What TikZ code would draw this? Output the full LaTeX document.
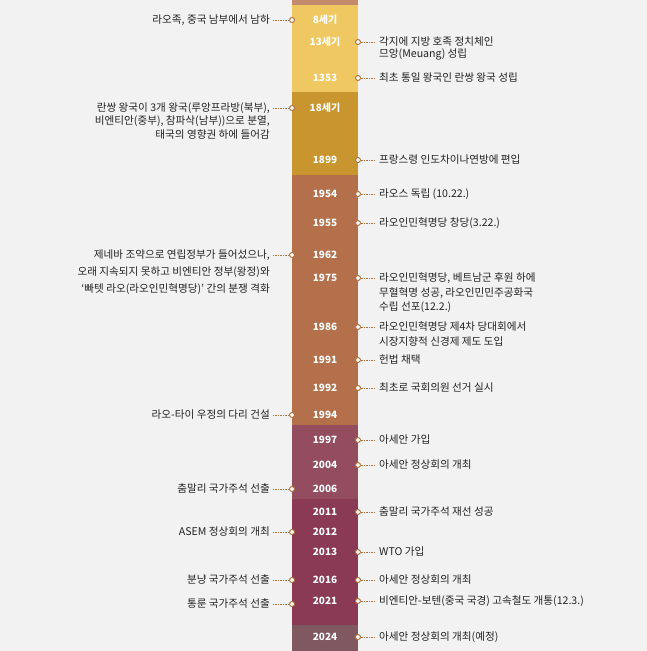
\documentclass[tikz,border=0pt]{standalone}
\usepackage{fontspec}
\setmainfont{Noto Sans CJK KR}
\usepackage{tikz}
\usetikzlibrary{positioning}

\definecolor{bggray}{HTML}{F2F2F2}
\definecolor{txtgray}{HTML}{222222}
\definecolor{dotbrown}{HTML}{B07440}
\definecolor{segtop}{HTML}{C48A6C}
\definecolor{segyellow}{HTML}{EFC862}
\definecolor{seggold}{HTML}{C8952F}
\definecolor{segbrown}{HTML}{B3704B}
\definecolor{segmauve}{HTML}{944C5F}
\definecolor{segcrimson}{HTML}{8B3A55}
\definecolor{seggray}{HTML}{80585F}

\begin{document}
\begin{tikzpicture}[
  x=1pt, y=-1pt,
  yr/.style={font=\fontsize{10}{11}\selectfont\bfseries, text=white, inner sep=0pt},
  ev/.style={font=\fontsize{10.6}{14}\selectfont, text=txtgray, inner sep=0pt, align=left, anchor=north west, yshift=5.5pt},
  evl/.style={ev, align=right, anchor=north east},
  dot/.style={circle, draw=dotbrown, fill=white, line width=1pt, inner sep=0pt, minimum size=5pt},
  link/.style={dotbrown, dash pattern=on 1.5pt off 1pt, line width=0.7pt},
]

% background and bar
\fill[bggray] (0,0) rectangle (647,651);
\useasboundingbox (0,0) rectangle (647,651);
\fill[segtop] (292,0) rectangle (358,5);
\fill[segyellow] (292,5) rectangle (358,92);
\fill[seggold] (292,92) rectangle (358,175);
\fill[segbrown] (292,175) rectangle (358,425);
\fill[segmauve] (292,425) rectangle (358,499);
\fill[segcrimson] (292,499) rectangle (358,625);
\fill[seggray] (292,625) rectangle (358,651);

% years
\node[yr] (y8) at (325,20) {8세기};
\node[yr] (y13) at (325,42) {13세기};
\node[yr] (y1353) at (325,78) {1353};
\node[yr] (y18) at (325,108) {18세기};
\node[yr] (y1899) at (325,160) {1899};
\node[yr] (y1954) at (325,194) {1954};
\node[yr] (y1955) at (325,223) {1955};
\node[yr] (y1962) at (325,255) {1962};
\node[yr] (y1975) at (325,278) {1975};
\node[yr] (y1986) at (325,327) {1986};
\node[yr] (y1991) at (325,360) {1991};
\node[yr] (y1992) at (325,388) {1992};
\node[yr] (y1994) at (325,415) {1994};
\node[yr] (y1997) at (325,440) {1997};
\node[yr] (y2004) at (325,465) {2004};
\node[yr] (y2006) at (325,489) {2006};
\node[yr] (y2011) at (325,512) {2011};
\node[yr] (y2012) at (325,532) {2012};
\node[yr] (y2013) at (325,552) {2013};
\node[yr] (y2016) at (325,580) {2016};
\node[yr] (y2021) at (325,601) {2021};
\node[yr] (y2024) at (325,637) {2024};

% dots on the left edge
\node[dot] (dl8) at (292,20) {};
\node[dot] (dl18) at (292,108) {};
\node[dot] (dl1962) at (292,255) {};
\node[dot] (dl1994) at (292,415) {};
\node[dot] (dl2006) at (292,489) {};
\node[dot] (dl2012) at (292,532) {};
\node[dot] (dl2016) at (292,580) {};
\node[dot] (dl2021) at (292,604) {};

% dots on the right edge
\node[dot] (dr13) at (358,42) {};
\node[dot] (dr1353) at (358,78) {};
\node[dot] (dr1899) at (358,160) {};
\node[dot] (dr1954) at (358,194) {};
\node[dot] (dr1955) at (358,223) {};
\node[dot] (dr1975) at (358,278) {};
\node[dot] (dr1986) at (358,327) {};
\node[dot] (dr1991) at (358,360) {};
\node[dot] (dr1992) at (358,388) {};
\node[dot] (dr1997) at (358,440) {};
\node[dot] (dr2004) at (358,465) {};
\node[dot] (dr2011) at (358,512) {};
\node[dot] (dr2013) at (358,552) {};
\node[dot] (dr2016) at (358,580) {};
\node[dot] (dr2021) at (358,601) {};
\node[dot] (dr2024) at (358,637) {};

% left events
\node[left=19pt of dl8, evl] (el8) {라오족, 중국 남부에서 남하};
\node[left=19pt of dl18, evl, font=\fontsize{10.6}{13.5}\selectfont] (el18) {란쌍 왕국이 3개 왕국(루앙프라방(북부),\\비엔티안(중부), 참파삭(남부))으로 분열,\\태국의 영향권 하에 들어감};
\node[left=19pt of dl1962, evl, font=\fontsize{10.6}{17}\selectfont] (el1962) {제네바 조약으로 연립정부가 들어섰으나,\\오래 지속되지 못하고 비엔티안 정부(왕정)와\\`빠텟 라오(라오인민혁명당)' 간의 분쟁 격화};
\node[left=19pt of dl1994, evl] (el1994) {라오-타이 우정의 다리 건설};
\node[left=19pt of dl2006, evl] (el2006) {춤말리 국가주석 선출};
\node[left=19pt of dl2012, evl] (el2012) {ASEM 정상회의 개최};
\node[left=19pt of dl2016, evl] (el2016) {분냥 국가주석 선출};
\node[left=19pt of dl2021, evl] (el2021) {통룬 국가주석 선출};

% right events
\node[right=18pt of dr13, ev, font=\fontsize{10.6}{12.5}\selectfont] (er13) {각지에 지방 호족 정치체인\\므앙(Meuang) 성립};
\node[right=18pt of dr1353, ev] (er1353) {최초 통일 왕국인 란쌍 왕국 성립};
\node[right=18pt of dr1899, ev] (er1899) {프랑스령 인도차이나연방에 편입};
\node[right=18pt of dr1954, ev] (er1954) {라오스 독립 (10.22.)};
\node[right=18pt of dr1955, ev] (er1955) {라오인민혁명당 창당(3.22.)};
\node[right=18pt of dr1975, ev, font=\fontsize{10.6}{14.5}\selectfont] (er1975) {라오인민혁명당, 베트남군 후원 하에\\무혈혁명 성공, 라오인민민주공화국\\수립 선포(12.2.)};
\node[right=18pt of dr1986, ev, font=\fontsize{10.6}{15}\selectfont] (er1986) {라오인민혁명당 제4차 당대회에서\\시장지향적 신경제 제도 도입};
\node[right=18pt of dr1991, ev] (er1991) {헌법 채택};
\node[right=18pt of dr1992, ev] (er1992) {최초로 국회의원 선거 실시};
\node[right=18pt of dr1997, ev] (er1997) {아세안 가입};
\node[right=18pt of dr2004, ev] (er2004) {아세안 정상회의 개최};
\node[right=18pt of dr2011, ev] (er2011) {춤말리 국가주석 재선 성공};
\node[right=18pt of dr2013, ev] (er2013) {WTO 가입};
\node[right=18pt of dr2016, ev] (er2016) {아세안 정상회의 개최};
\node[right=18pt of dr2021, ev] (er2021) {비엔티안-보텐(중국 국경) 고속철도 개통(12.3.)};
\node[right=18pt of dr2024, ev] (er2024) {아세안 정상회의 개최(예정)};

% dotted links
\foreach \n in {8,18,1962,1994,2006,2012,2016,2021}
  \draw[link] (dl\n) -- ([xshift=3pt]dl\n -| el\n.east);
\foreach \n in {13,1353,1899,1954,1955,1975,1986,1991,1992,1997,2004,2011,2013,2016,2021,2024}
  \draw[link] (dr\n) -- ([xshift=-3pt]dr\n -| er\n.west);

\end{tikzpicture}
\end{document}
